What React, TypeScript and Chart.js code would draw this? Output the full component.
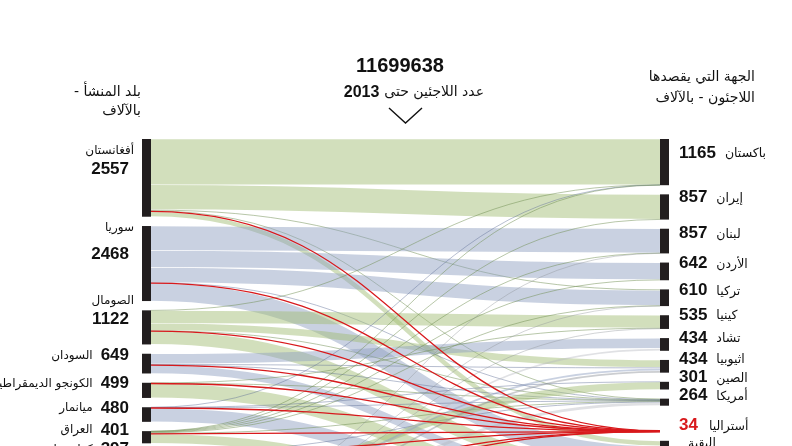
import React, { useEffect, useRef } from "react";
import { Chart, registerables } from "chart.js";

Chart.register(...registerables);

// ---------- DATA (thousands of refugees) ----------
const TOTAL_REFUGEES = "11699638";
const TITLE_YEAR = "2013";

const ORIGIN_NAMES = [
  "أفغانستان",
  "سوريا",
  "الصومال",
  "السودان",
  "الكونجو الديمقراطية",
  "ميانمار",
  "العراق",
  "كولومبيا",
  "فيتنام",
  "إريتريا",
  "البقية",
];
const ORIGIN_VALUES = [2557, 2468, 1122, 649, 499, 480, 401, 397, 314, 308, 2504];

const DEST_NAMES = [
  "باكستان",
  "إيران",
  "لبنان",
  "الأردن",
  "تركيا",
  "كينيا",
  "تشاد",
  "اثيوبيا",
  "الصين",
  "أمريكا",
  "أستراليا",
  "البقية",
];
const DEST_LABEL_VALUES = ["1165", "857", "857", "642", "610", "535", "434", "434", "301", "264", "34", ""];
const HIGHLIGHT_DEST = "أستراليا";

// flows from each origin to [Pak, Iran, Leb, Jor, Tur, Ken, Chad, Eth, China, USA, Aus, Rest]
const FLOW_AFGHANISTAN = [1505, 820, 0, 0, 30, 0, 0, 0, 0, 25, 8, 169];
const FLOW_SYRIA = [0, 0, 800, 560, 500, 0, 0, 0, 0, 15, 5, 588];
const FLOW_SOMALIA = [5, 0, 0, 0, 0, 420, 0, 245, 0, 10, 2, 440];
const FLOW_SUDAN = [0, 0, 0, 0, 0, 0, 340, 30, 0, 5, 3, 271];
const FLOW_DRC = [0, 0, 0, 0, 0, 12, 0, 0, 0, 10, 2, 475];
const FLOW_MYANMAR = [5, 0, 0, 0, 0, 0, 0, 0, 3, 15, 5, 452];
const FLOW_IRAQ = [5, 10, 7, 22, 15, 0, 0, 0, 0, 30, 6, 306];
const FLOW_COLOMBIA = [0, 0, 0, 0, 0, 0, 0, 0, 0, 5, 1, 391];
const FLOW_VIETNAM = [0, 0, 0, 0, 0, 0, 0, 0, 250, 0, 1, 63];
const FLOW_ERITREA = [0, 0, 0, 0, 0, 0, 0, 85, 0, 0, 1, 222];
const FLOW_OTHERS = [0, 0, 5, 0, 4, 19, 78, 58, 0, 117, 0, 2223];

const FLOWS = [
  FLOW_AFGHANISTAN,
  FLOW_SYRIA,
  FLOW_SOMALIA,
  FLOW_SUDAN,
  FLOW_DRC,
  FLOW_MYANMAR,
  FLOW_IRAQ,
  FLOW_COLOMBIA,
  FLOW_VIETNAM,
  FLOW_ERITREA,
  FLOW_OTHERS,
];

// ---------- LAYOUT / STYLE CONSTANTS ----------
const W = 792;
const H = 446;
const Y_MAX = 10100; // value span of the visible chart area
const LEFT_GAP = 306; // node gap (value units)
const RIGHT_GAP = 301;
const HIGHLIGHT_GAP = 820;
const BAR_W = 9;
const BAR_COLOR = "#221e1f";
const GREEN = "rgba(160,188,116,0.48)";
const BLUE = "rgba(143,158,192,0.48)";
const GRAY = "rgba(180,184,190,0.42)";
const GREEN_THIN = "rgba(110,140,80,0.55)";
const BLUE_THIN = "rgba(95,110,150,0.5)";
const GRAY_THIN = "rgba(140,145,150,0.45)";
const RED = "#d8191c";
const TEXT = "#111111";
const AR_FONT = "'DejaVu Sans', sans-serif";
const NUM_FONT = "'Liberation Sans', Arial, 'DejaVu Sans', sans-serif";

// label placement relative to node top (px)
const LEFT_STACK = [true, true, true, false, false, false, false, false, false, false, false];
const LEFT_NAME_DY = [12, 2, -9, 2, 1, 1, -1, -3, 2, 2, 2];
const LEFT_NUM_DY = [30, 28, 9, 2, 1, 1, -1, -3, 2, 2, 2];
const RIGHT_DY = [14, 3, 5, 1, 1, 0, 0, -1, -4, -3, -5, 2];

function colorFor(i: number, thin: boolean) {
  if (i === ORIGIN_NAMES.length - 1) return thin ? GRAY_THIN : GRAY;
  return i % 2 === 0 ? (thin ? GREEN_THIN : GREEN) : thin ? BLUE_THIN : BLUE;
}

const sankeyPlugin = {
  id: "sankeyFlows",
  afterDatasetsDraw(chart: any) {
    const ctx: CanvasRenderingContext2D = chart.ctx;
    const xs = chart.scales.x;
    const ys = chart.scales.y;
    const py = (v: number) => ys.getPixelForValue(v);

    // node layout in value units
    const oTop: number[] = [];
    let c = 0;
    ORIGIN_VALUES.forEach((v) => {
      oTop.push(c);
      c += v + LEFT_GAP;
    });
    const dVal = DEST_NAMES.map((_, j) => FLOWS.reduce((s, f) => s + f[j], 0));
    const dTop: number[] = [];
    c = 0;
    dVal.forEach((v, j) => {
      if (DEST_NAMES[j] === HIGHLIGHT_DEST) c += HIGHLIGHT_GAP - RIGHT_GAP;
      dTop.push(c);
      c += v + RIGHT_GAP;
    });

    const xL = xs.getPixelForValue(0);
    const xR = xs.getPixelForValue(1);
    const x0 = xL + BAR_W;
    const x1 = xR - BAR_W;
    const xm = (x0 + x1) / 2;

    // link offsets
    const srcOff = ORIGIN_VALUES.map(() => 0);
    const tgtOff = DEST_NAMES.map(() => 0);
    type L = { i: number; j: number; s: number; t: number; v: number };
    const links: L[] = [];
    for (let i = 0; i < FLOWS.length; i++) {
      for (let j = 0; j < DEST_NAMES.length; j++) {
        const v = FLOWS[i][j];
        if (!v) continue;
        links.push({ i, j, s: oTop[i] + srcOff[i] + v / 2, t: 0, v });
        srcOff[i] += v;
      }
    }
    for (let j = 0; j < DEST_NAMES.length; j++) {
      for (const l of links) {
        if (l.j !== j) continue;
        l.t = dTop[j] + tgtOff[j] + l.v / 2;
        tgtOff[j] += l.v;
      }
    }

    ctx.save();
    ctx.lineCap = "butt";
    const unitPx = py(1000) - py(0);
    const drawLink = (l: L, color: string, width: number) => {
      const ys0 = py(l.s);
      const yt0 = py(l.t);
      ctx.beginPath();
      ctx.moveTo(x0, ys0);
      ctx.bezierCurveTo(xm, ys0, xm, yt0, x1, yt0);
      ctx.strokeStyle = color;
      ctx.lineWidth = width;
      ctx.stroke();
    };
    const isHi = (l: L) => DEST_NAMES[l.j] === HIGHLIGHT_DEST;
    for (const l of links) {
      if (isHi(l)) continue;
      const w = (l.v / 1000) * unitPx;
      if (w < 2) drawLink(l, colorFor(l.i, true), Math.max(w, 0.9));
      else drawLink(l, colorFor(l.i, false), w - 0.7);
    }
    for (const l of links) {
      if (!isHi(l)) continue;
      drawLink(l, RED, 1.3);
    }

    // bars
    ctx.fillStyle = BAR_COLOR;
    ORIGIN_VALUES.forEach((v, i) => {
      const a = py(oTop[i]);
      const b = py(oTop[i] + v);
      ctx.fillRect(xL, a, BAR_W, b - a);
    });
    dVal.forEach((v, j) => {
      if (DEST_NAMES[j] === HIGHLIGHT_DEST) return;
      const a = py(dTop[j]);
      const b = py(dTop[j] + v);
      ctx.fillRect(x1, a, BAR_W, b - a);
    });

    // labels
    ctx.textBaseline = "middle";
    ctx.direction = "rtl";
    ORIGIN_NAMES.forEach((name, i) => {
      const top = py(oTop[i]);
      const num = String(ORIGIN_VALUES[i]);
      ctx.fillStyle = TEXT;
      ctx.font = `bold 17px ${NUM_FONT}`;
      ctx.textAlign = "right";
      ctx.fillText(num, xL - 13, top + LEFT_NUM_DY[i]);
      const nw = ctx.measureText(num).width;
      ctx.font = `12px ${AR_FONT}`;
      if (LEFT_STACK[i]) {
        ctx.fillText(name, xL - 8, top + LEFT_NAME_DY[i]);
      } else {
        ctx.fillText(name, xL - 13 - nw - 8, top + LEFT_NAME_DY[i]);
      }
    });
    DEST_NAMES.forEach((name, j) => {
      const top = py(dTop[j]);
      const num = DEST_LABEL_VALUES[j];
      const yy = top + RIGHT_DY[j];
      const hi = name === HIGHLIGHT_DEST;
      ctx.textAlign = "left";
      ctx.font = `bold 17px ${NUM_FONT}`;
      ctx.fillStyle = hi ? RED : TEXT;
      ctx.fillText(num, xR + 10, yy);
      const nw = num ? ctx.measureText(num).width : 0;
      ctx.fillStyle = TEXT;
      ctx.font = `12.5px ${AR_FONT}`;
      ctx.fillText(name, xR + 10 + nw + (hi ? 11 : 9), yy + 1);
    });

    // headers
    ctx.fillStyle = TEXT;
    ctx.font = `14px ${AR_FONT}`;
    ctx.textAlign = "right";
    ctx.fillText("بلد المنشأ -", xL - 1, 92);
    ctx.fillText("بالآلاف", xL - 1, 111);
    ctx.fillText("الجهة التي يقصدها", 755, 77);
    ctx.fillText("اللاجئون - بالآلاف", 755, 98);

    // title
    ctx.direction = "ltr";
    ctx.textAlign = "center";
    ctx.font = `bold 20px ${NUM_FONT}`;
    ctx.fillText(TOTAL_REFUGEES, 400, 66);
    ctx.direction = "rtl";
    ctx.textAlign = "right";
    ctx.font = `14px ${AR_FONT}`;
    const sub = "عدد اللاجئين حتى";
    ctx.fillText(sub, 484, 92);
    const sw = ctx.measureText(sub).width;
    ctx.font = `bold 16px ${NUM_FONT}`;
    ctx.fillText(TITLE_YEAR, 484 - sw - 5, 93);

    // chevron
    ctx.beginPath();
    ctx.moveTo(389, 108);
    ctx.lineTo(405.5, 123);
    ctx.lineTo(422, 108);
    ctx.strokeStyle = "#111";
    ctx.lineWidth = 1.4;
    ctx.stroke();
    ctx.restore();
  },
};

export default function App() {
  const ref = useRef<HTMLCanvasElement | null>(null);
  useEffect(() => {
    if (!ref.current) return;
    const chart = new Chart(ref.current, {
      type: "scatter",
      data: { datasets: [] },
      options: {
        animation: false,
        responsive: false,
        devicePixelRatio: 1,
        layout: { padding: { left: 142, right: 123, top: 139, bottom: 0 } },
        scales: {
          x: { type: "linear", min: 0, max: 1, display: false },
          y: { type: "linear", min: 0, max: Y_MAX, reverse: true, display: false },
        },
        plugins: { legend: { display: false }, tooltip: { enabled: false } },
      },
      plugins: [sankeyPlugin],
    } as any);
    return () => chart.destroy();
  }, []);
  return (
    <div style={{ position: "fixed", left: 0, top: 0, width: W, height: H, background: "#fff" }}>
      <canvas ref={ref} width={W} height={H} style={{ display: "block" }} />
    </div>
  );
}
